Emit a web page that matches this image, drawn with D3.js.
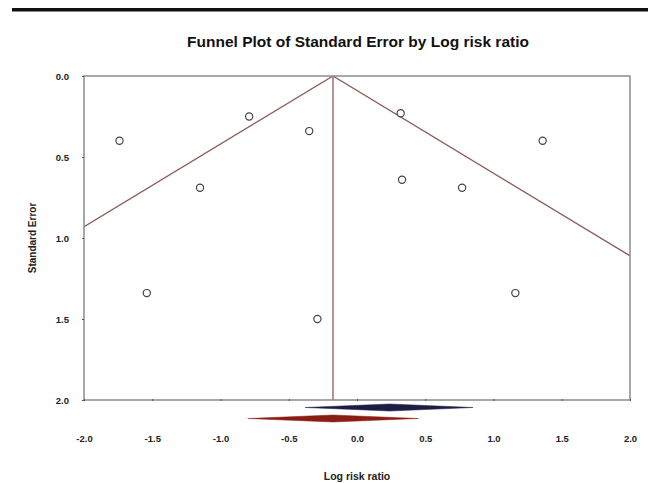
<!DOCTYPE html>
<html><head><meta charset="utf-8">
<script src="https://cdn.jsdelivr.net/npm/d3@7"></script>
<style>body{margin:0;background:#fff}svg{display:block}text{font-family:"Liberation Sans",Arial,sans-serif}</style>
</head><body>
<script>
// Data
const studyLogRR = [-1.74, -0.79, -0.35, -1.15, -1.54, -0.29, 0.32, 1.36, 0.33, 0.77, 1.16];
const studySE    = [0.40, 0.25, 0.34, 0.69, 1.34, 1.50, 0.23, 0.40, 0.64, 0.69, 1.34];
const pooledEstimate = -0.176;           // observed combined log risk ratio
const diamondObserved = [-0.80, -0.176, 0.45];  // lower, point, upper (red)
const diamondImputed  = [-0.38, 0.24, 0.85];    // lower, point, upper (blue)
const xTicks = [-2.0, -1.5, -1.0, -0.5, 0.0, 0.5, 1.0, 1.5, 2.0];
const yTicks = [0.0, 0.5, 1.0, 1.5, 2.0];

const W = 657, H = 483;
const svg = d3.select("body").append("svg").attr("width", W).attr("height", H);
const pL = 84, pR = 630, pT = 76, pB = 400;
const x = d3.scaleLinear().domain([-2, 2]).range([pL, pR]);
const y = d3.scaleLinear().domain([0, 2]).range([pT, pB]);
const fmt = d => d.toFixed(1);

// top rule
svg.append("rect").attr("x", 12).attr("y", 8).attr("width", 636).attr("height", 3.5).attr("fill", "#111");

// title
svg.append("text").attr("x", 358).attr("y", 47).attr("text-anchor", "middle")
  .attr("font-size", 15.5).attr("font-weight", "bold").attr("fill", "#111")
  .text("Funnel Plot of Standard Error by Log risk ratio");

svg.append("clipPath").attr("id", "c").append("rect")
  .attr("x", pL).attr("y", pT).attr("width", pR - pL).attr("height", pB - pT);

// funnel lines
const g = svg.append("g").attr("clip-path", "url(#c)");
const seMax = 2;
const funnel = [[pooledEstimate - 1.96 * seMax, seMax], [pooledEstimate, 0], [pooledEstimate + 1.96 * seMax, seMax]];
g.append("path").attr("d", d3.line().x(d => x(d[0])).y(d => y(d[1]))(funnel))
  .attr("fill", "none").attr("stroke", "#8a5a58").attr("stroke-width", 1.3);
g.append("line").attr("x1", x(pooledEstimate)).attr("x2", x(pooledEstimate))
  .attr("y1", y(0)).attr("y2", y(2)).attr("stroke", "#8a5a58").attr("stroke-width", 1.3);

// box
svg.append("rect").attr("x", pL).attr("y", pT).attr("width", pR - pL).attr("height", pB - pT)
  .attr("fill", "none").attr("stroke", "#8c8c8c").attr("stroke-width", 1.5);

// axes ticks
const yAxis = d3.axisLeft(y).tickValues(yTicks).tickSize(2).tickFormat(fmt);
const ya = svg.append("g").attr("transform", `translate(${pL},0)`).call(yAxis);
ya.select(".domain").remove();
ya.selectAll("line").attr("stroke", "#555");
ya.selectAll("text").attr("font-size", 9.5).attr("font-weight", "bold").attr("fill", "#222").attr("x", -15);

const xAxis = d3.axisBottom(x).tickValues(xTicks).tickSize(2).tickFormat(fmt);
const xa = svg.append("g").attr("transform", `translate(0,${pB - 1})`).call(xAxis);
xa.select(".domain").remove();
xa.selectAll("line").attr("stroke", "#555");
xa.selectAll("text").attr("font-size", 9.5).attr("font-weight", "bold").attr("fill", "#222").attr("y", 36);

// axis titles
svg.append("text").attr("transform", "translate(36,238) rotate(-90)").attr("text-anchor", "middle")
  .attr("font-size", 10).attr("font-weight", "bold").attr("fill", "#222").text("Standard Error");
svg.append("text").attr("x", 357).attr("y", 480).attr("text-anchor", "middle")
  .attr("font-size", 10.5).attr("font-weight", "bold").attr("fill", "#222").text("Log risk ratio");

// points
svg.append("g").selectAll("circle").data(studyLogRR).join("circle")
  .attr("cx", d => x(d)).attr("cy", (d, i) => y(studySE[i])).attr("r", 3.6)
  .attr("fill", "#fff").attr("stroke", "#444").attr("stroke-width", 1.2);

// diamonds
function diamond(vals, cy, h, color) {
  const pts = [[x(vals[0]), cy], [x(vals[1]), cy - h], [x(vals[2]), cy], [x(vals[1]), cy + h]];
  svg.append("path").attr("d", "M" + pts.join("L") + "Z").attr("fill", color).attr("stroke", color).attr("stroke-width", 0.5);
}
diamond(diamondImputed, 407.5, 3.5, "#1c1c45");
diamond(diamondObserved, 418.5, 3.5, "#8a1c14");
</script>
</body></html>
